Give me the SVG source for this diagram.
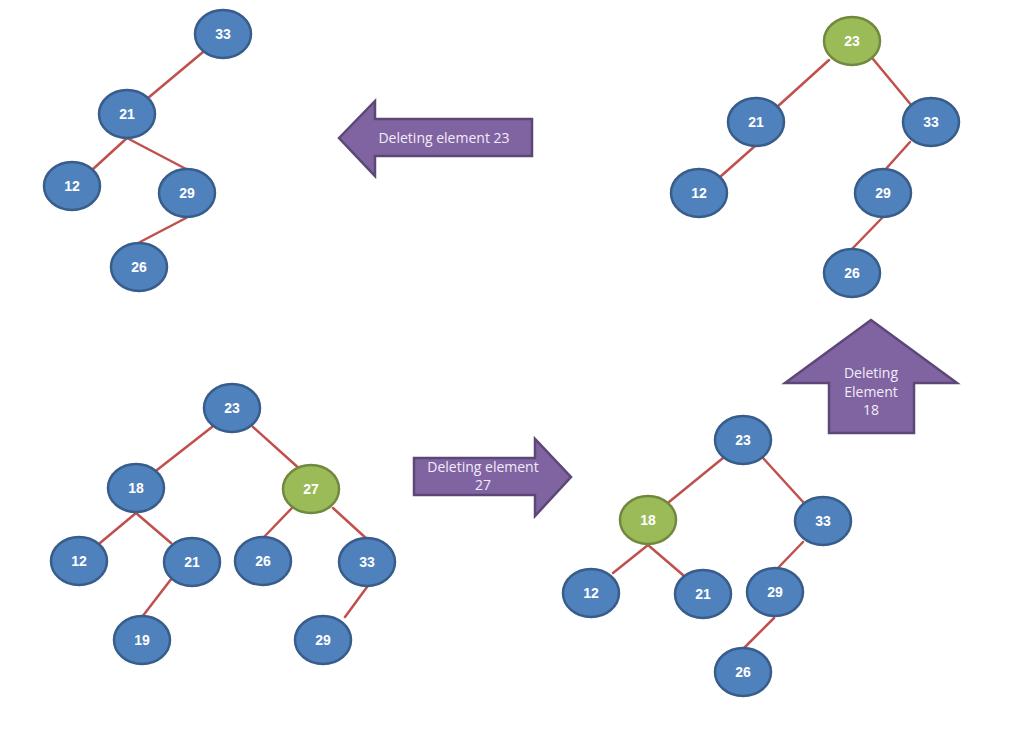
<svg xmlns="http://www.w3.org/2000/svg" width="1010" height="732" viewBox="0 0 1010 732">
<style>
.n ellipse{fill:#4f81bd;stroke:#385d8a;stroke-width:2.5}
.g ellipse{fill:#9bbb59;stroke:#71893f;stroke-width:2.5}
.n text,.g text{fill:#ffffff;font-family:"Liberation Sans",Arial,sans-serif;font-weight:bold;font-size:14px;text-anchor:middle}
.e line{stroke:#c0504d;stroke-width:2.5;stroke-linecap:round}
.ar{fill:#8064a2;stroke:#5c4776;stroke-width:2.5;stroke-linejoin:miter}
.at{fill:#f2ecf8;font-family:"Open Sans","Liberation Sans",sans-serif;font-size:14px;text-anchor:middle}
</style>
<rect width="1010" height="732" fill="#ffffff"/>
<g id="connectors" class="e">
<!-- top-left -->
<line x1="203" y1="52" x2="148" y2="98"/>
<line x1="127" y1="138" x2="92" y2="170"/>
<line x1="127" y1="138" x2="188" y2="170"/>
<line x1="186" y1="218" x2="140" y2="242"/>
<!-- top-right -->
<line x1="829" y1="60" x2="777" y2="107"/>
<line x1="873" y1="59" x2="912" y2="106"/>
<line x1="755" y1="146" x2="720" y2="177"/>
<line x1="910" y1="142" x2="884" y2="171"/>
<line x1="882" y1="218" x2="852" y2="249"/>
<!-- bottom-left -->
<line x1="212" y1="427" x2="157" y2="470"/>
<line x1="253" y1="427" x2="302" y2="471"/>
<line x1="136" y1="513" x2="100" y2="543"/>
<line x1="136" y1="513" x2="171" y2="543"/>
<line x1="292" y1="508" x2="264" y2="537"/>
<line x1="333" y1="508" x2="368" y2="540"/>
<line x1="172" y1="578" x2="142" y2="617"/>
<line x1="367" y1="587" x2="345" y2="617"/>
<!-- bottom-right -->
<line x1="723" y1="458" x2="669" y2="502"/>
<line x1="763" y1="458" x2="804" y2="503"/>
<line x1="648" y1="545" x2="613" y2="573"/>
<line x1="648" y1="545" x2="683" y2="575"/>
<line x1="803" y1="542" x2="776" y2="570"/>
<line x1="774" y1="618" x2="744" y2="648"/>
</g>
<!-- top-left tree -->
<g id="tl33" class="n"><ellipse cx="223" cy="34" rx="28" ry="24"/><text x="223" y="39">33</text></g>
<g id="tl21" class="n"><ellipse cx="127" cy="114" rx="28" ry="24"/><text x="127" y="119">21</text></g>
<g id="tl12" class="n"><ellipse cx="72" cy="186" rx="28" ry="24"/><text x="72" y="191">12</text></g>
<g id="tl29" class="n"><ellipse cx="187" cy="193" rx="28" ry="24"/><text x="187" y="198">29</text></g>
<g id="tl26" class="n"><ellipse cx="139" cy="267" rx="28" ry="24"/><text x="139" y="272">26</text></g>
<!-- top-right tree -->
<g id="tr23" class="g"><ellipse cx="852" cy="41" rx="28" ry="24"/><text x="852" y="46">23</text></g>
<g id="tr21" class="n"><ellipse cx="756" cy="122" rx="28" ry="24"/><text x="756" y="127">21</text></g>
<g id="tr33" class="n"><ellipse cx="931" cy="122" rx="28" ry="24"/><text x="931" y="127">33</text></g>
<g id="tr12" class="n"><ellipse cx="699" cy="193" rx="28" ry="24"/><text x="699" y="198">12</text></g>
<g id="tr29" class="n"><ellipse cx="883" cy="193" rx="28" ry="24"/><text x="883" y="198">29</text></g>
<g id="tr26" class="n"><ellipse cx="852" cy="273" rx="28" ry="24"/><text x="852" y="278">26</text></g>
<!-- bottom-left tree -->
<g id="bl23" class="n"><ellipse cx="232" cy="408" rx="28" ry="24"/><text x="232" y="413">23</text></g>
<g id="bl18" class="n"><ellipse cx="136" cy="488" rx="28" ry="24"/><text x="136" y="493">18</text></g>
<g id="bl27" class="g"><ellipse cx="311" cy="489" rx="28" ry="24"/><text x="311" y="494">27</text></g>
<g id="bl12" class="n"><ellipse cx="79" cy="561" rx="28" ry="24"/><text x="79" y="566">12</text></g>
<g id="bl21" class="n"><ellipse cx="192" cy="562" rx="28" ry="24"/><text x="192" y="567">21</text></g>
<g id="bl26" class="n"><ellipse cx="263" cy="561" rx="28" ry="24"/><text x="263" y="566">26</text></g>
<g id="bl33" class="n"><ellipse cx="367" cy="562" rx="28" ry="24"/><text x="367" y="567">33</text></g>
<g id="bl19" class="n"><ellipse cx="142" cy="640" rx="28" ry="24"/><text x="142" y="645">19</text></g>
<g id="bl29" class="n"><ellipse cx="323" cy="640" rx="28" ry="24"/><text x="323" y="645">29</text></g>
<!-- bottom-right tree -->
<g id="br23" class="n"><ellipse cx="743" cy="440" rx="28" ry="24"/><text x="743" y="445">23</text></g>
<g id="br18" class="g"><ellipse cx="648" cy="520" rx="28" ry="24"/><text x="648" y="525">18</text></g>
<g id="br33" class="n"><ellipse cx="823" cy="521" rx="28" ry="24"/><text x="823" y="526">33</text></g>
<g id="br12" class="n"><ellipse cx="591" cy="593" rx="28" ry="24"/><text x="591" y="598">12</text></g>
<g id="br21" class="n"><ellipse cx="703" cy="594" rx="28" ry="24"/><text x="703" y="599">21</text></g>
<g id="br29" class="n"><ellipse cx="775" cy="592" rx="28" ry="24"/><text x="775" y="597">29</text></g>
<g id="br26" class="n"><ellipse cx="743" cy="672" rx="28" ry="24"/><text x="743" y="677">26</text></g>
<!-- arrows -->
<g id="arrow-del23">
<polygon class="ar" points="339,138 375,101 375,119 532,119 532,156 375,156 375,176"/>
<text class="at" x="444" y="143">Deleting element 23</text>
</g>
<g id="arrow-del18">
<polygon class="ar" points="871,320 957,383 914,383 914,433 829,433 829,383 785,383"/>
<text class="at" x="871" y="378">Deleting</text>
<text class="at" x="871" y="397">Element</text>
<text class="at" x="871" y="415">18</text>
</g>
<g id="arrow-del27">
<polygon class="ar" points="414,458 535,458 535,439 571,477 535,516 535,495 414,495"/>
<text class="at" x="483" y="472">Deleting element</text>
<text class="at" x="483" y="490">27</text>
</g>
</svg>
